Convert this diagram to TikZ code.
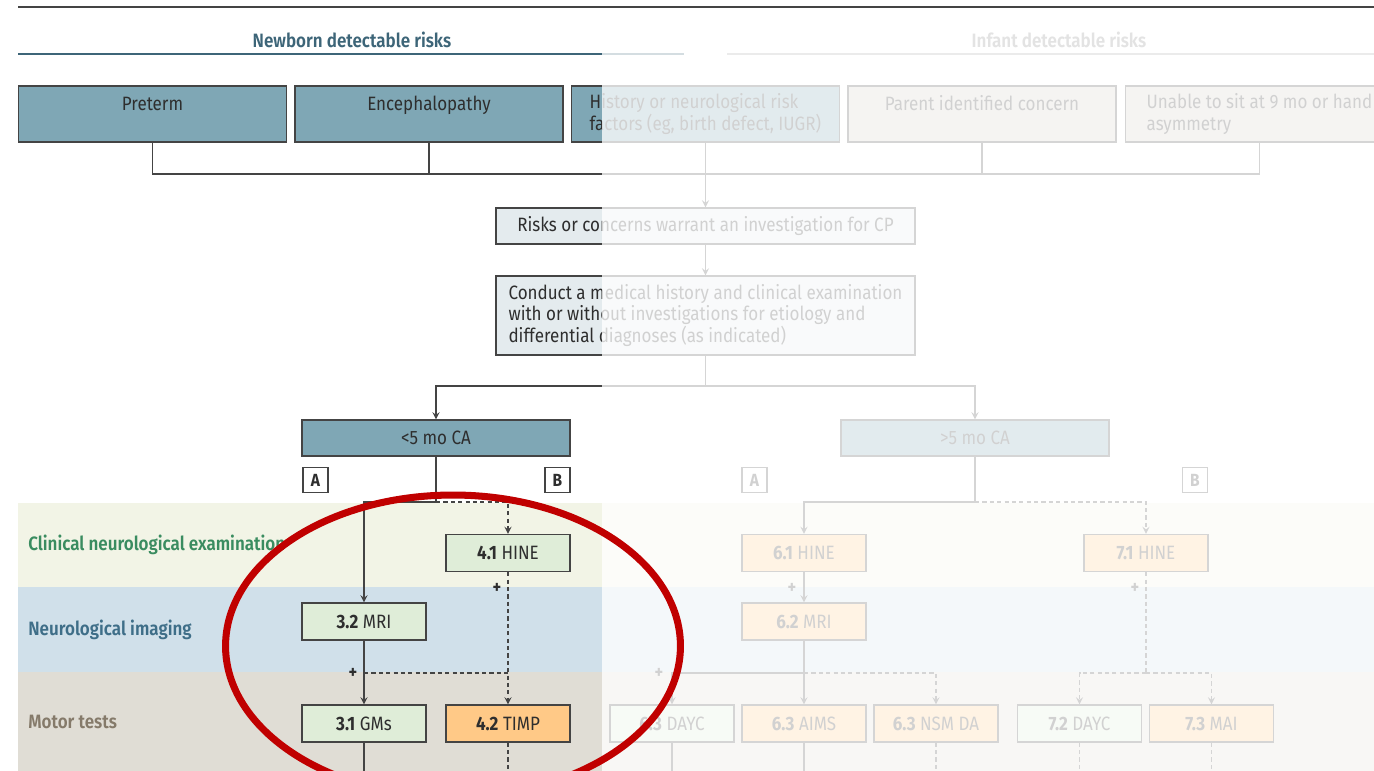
\documentclass[tikz,border=0pt]{standalone}
\usepackage{fontspec}
\setmainfont{Fira Sans}[FakeStretch=0.88]
\newfontfamily\semib{Fira Sans SemiBold}[FakeStretch=0.88]
\usepackage{tikz}
\usetikzlibrary{arrows}

\definecolor{steel}{HTML}{7FA7B5}
\definecolor{paleblue}{HTML}{E4EBEE}
\definecolor{infgray}{HTML}{D2CEC6}
\definecolor{testgreen}{HTML}{DFEDD8}
\definecolor{testorange}{HTML}{FFC987}
\definecolor{bandgreen}{HTML}{F2F4E6}
\definecolor{bandblue}{HTML}{D0E0EA}
\definecolor{bandgray}{HTML}{E0DDD5}
\definecolor{edge}{HTML}{444444}
\definecolor{ink}{HTML}{2E2E2E}
\definecolor{headblue}{HTML}{3D6578}
\definecolor{labgreen}{HTML}{3A8C60}
\definecolor{labblue}{HTML}{3E6E88}
\definecolor{labgray}{HTML}{857A6A}
\definecolor{ring}{HTML}{C00000}

\begin{document}
\begin{tikzpicture}[>=stealth, x=0.02cm, y=-0.02cm,
    every node/.style={font=\fontsize{11}{12}\selectfont, text=ink},
    boxline/.style={draw=edge, line width=0.8pt, inner sep=0pt},
    newbornbox/.style={boxline, fill=steel, minimum width=5.36cm, minimum height=1.12cm},
    infantbox/.style={boxline, fill=infgray, minimum width=5.36cm, minimum height=1.12cm},
    askbox/.style={boxline, fill=paleblue, minimum width=8.38cm},
    agebox/.style={boxline, fill=steel, minimum width=5.36cm, minimum height=0.72cm},
    tagbox/.style={boxline, fill=white, minimum size=0.5cm, font=\fontsize{10}{10}\selectfont\bfseries},
    greentest/.style={boxline, fill=testgreen, minimum width=2.48cm, minimum height=0.74cm},
    orangetest/.style={greentest, fill=testorange},
    rowlabel/.style={anchor=west, inner sep=0pt, font=\semib\fontsize{11}{12}\selectfont},
    link/.style={draw=edge, line width=0.75pt},
    maybe/.style={link, dash pattern=on 2.4pt off 1.8pt},
    plus/.style={inner sep=0pt, font=\fontsize{10.5}{10.5}\selectfont\bfseries}]
    \useasboundingbox (0,0) rectangle (1374,771);
    \fill[white] (0,0) rectangle (1374,771);

    % Age bands behind the tests
    \fill[bandgreen] (18,503) rectangle (1374,587);
    \fill[bandblue] (18,587) rectangle (1374,672);
    \fill[bandgray] (18,672) rectangle (1374,771);
    \node (clinical) at (28,545) [rowlabel, text=labgreen] {Clinical neurological examination};
    \node (imaging) at (28,630) [rowlabel, text=labblue] {Neurological imaging};
    \node (motor) at (28,722) [rowlabel, text=labgray] {Motor tests};

    % Headings
    \draw[edge, line width=1.1pt] (18,7) -- (1374,7);
    \node (newhead) at (352,40) [font=\semib\fontsize{11}{12}\selectfont, text=headblue] {Newborn detectable risks};
    \node (infhead) at (1059,40) [font=\semib\fontsize{11}{12}\selectfont, text=gray] {Infant detectable risks};
    \draw[headblue, line width=1.4pt] (18,54) -- (684,54);
    \draw[gray!70, line width=1.4pt] (727,54) -- (1374,54);

    % Risks
    \node (preterm) at (152.5,114) [newbornbox, align=center] {Preterm\\\mbox{}};
    \node (enceph) at (429,114) [newbornbox, align=center] {Encephalopathy\\\mbox{}};
    \node (history) at (705.5,114) [newbornbox, align=left] {History or neurological risk\\factors (eg, birth defect, IUGR)};
    \node (parent) at (982,114) [infantbox, align=center] {Parent identified concern\\\mbox{}};
    \node (unable) at (1259.5,114) [infantbox, align=left] {Unable to sit at 9 mo or hand\\asymmetry};

    \node (risks) at (705.5,226) [askbox, minimum height=0.72cm] {Risks or concerns warrant an investigation for CP};
    \node (conduct) at (705.5,315.5) [askbox, minimum height=1.58cm, align=left] {Conduct a medical history and clinical examination\\with or without investigations for etiology and\\differential diagnoses (as indicated)};

    \node (young) at (436,438) [agebox] {<5 mo CA};
    \node (older) at (975,438) [agebox] {>5 mo CA};
    \node (tagA1) at (315.5,480) [tagbox] {A};
    \node (tagB1) at (557.5,480) [tagbox] {B};
    \node (tagA2) at (754.5,480) [tagbox] {A};
    \node (tagB2) at (1195,480) [tagbox] {B};

    % Tests, younger than 5 months
    \node (hine4) at (508,553) [greentest] {\textbf{4.1} HINE};
    \node (mri3) at (364,621.5) [greentest] {\textbf{3.2} MRI};
    \node (gms3) at (364,723.5) [greentest] {\textbf{3.1} GMs};
    \node (timp4) at (508,723.5) [orangetest] {\textbf{4.2} TIMP};

    % Tests, older than 5 months
    \node (hine6) at (804,553) [orangetest] {\textbf{6.1} HINE};
    \node (hine7) at (1146,553) [orangetest] {\textbf{7.1} HINE};
    \node (mri6) at (804,621.5) [orangetest] {\textbf{6.2} MRI};
    \node (dayc6) at (672,723.5) [greentest] {\textbf{6.3} DAYC};
    \node (aims6) at (804,723.5) [orangetest] {\textbf{6.3} AIMS};
    \node (nsm6) at (936,723.5) [orangetest] {\textbf{6.3} NSM DA};
    \node (dayc7) at (1079.5,723.5) [greentest] {\textbf{7.2} DAYC};
    \node (mai7) at (1211.5,723.5) [orangetest] {\textbf{7.3} MAI};

    % Connectors
    \coordinate (bus) at (0,174);
    \coordinate (fork) at (0,386);
    \coordinate (rowtop) at (0,502);
    \coordinate (rowmid) at (0,673);
    \coordinate (foot) at (0,780);
    \draw[link] (preterm.south) |- (unable.south |- bus) -- (unable.south);
    \draw[link] (enceph.south) -- (enceph.south |- bus);
    \draw[link] (parent.south) -- (parent.south |- bus);
    \draw[link, ->] (history) -- (risks);
    \draw[link, ->] (risks) -- (conduct);
    \draw[link, ->] (conduct.south) |- (young.north |- fork) -- (young.north);
    \draw[link, ->] (conduct.south) |- (older.north |- fork) -- (older.north);

    \draw[link, ->] (young.south) |- (mri3.north |- rowtop) -- (mri3.north);
    \draw[maybe, ->] (young.south |- rowtop) -| (hine4.north);
    \draw[maybe, ->] (hine4) -- (timp4);
    \draw[link, ->] (mri3) -- (gms3);
    \draw[maybe] (mri3.south |- rowmid) -- (hine4.south |- rowmid);
    \draw[link] (gms3.south) -- (gms3.south |- foot);
    \draw[maybe] (timp4.south) -- (timp4.south |- foot);
    \node (plus1) at (497,588) [plus] {+};
    \node (plus2) at (353,673) [plus] {+};

    \draw[link, ->] (older.south) |- (hine6.north |- rowtop) -- (hine6.north);
    \draw[maybe, ->] (older.south |- rowtop) -| (hine7.north);
    \draw[link, ->] (hine6) -- (mri6);
    \draw[link, ->] (mri6) -- (aims6);
    \draw[link, ->] (mri6.south |- rowmid) -| (dayc6.north);
    \draw[maybe, ->] (mri6.south |- rowmid) -| (nsm6.north);
    \draw[maybe] (hine7.south) -- (hine7.south |- rowmid);
    \draw[maybe, ->] (hine7.south |- rowmid) -| (dayc7.north);
    \draw[maybe, ->] (hine7.south |- rowmid) -| (mai7.north);
    \foreach \t in {dayc6, aims6}
        \draw[link] (\t.south) -- (\t.south |- foot);
    \foreach \t in {nsm6, dayc7, mai7}
        \draw[maybe] (\t.south) -- (\t.south |- foot);
    \node (plus3) at (792,588) [plus] {+};
    \node (plus4) at (659,673) [plus] {+};
    \node (plus5) at (1135,588) [plus] {+};

    % Fade the infant side, then ring the younger tests
    \fill[white, opacity=0.78] (602,15) rectangle (1374,771);
    \draw[ring, line width=4pt] (453,646) ellipse [x radius=4.55cm, y radius=3.02cm];
\end{tikzpicture}
\end{document}
